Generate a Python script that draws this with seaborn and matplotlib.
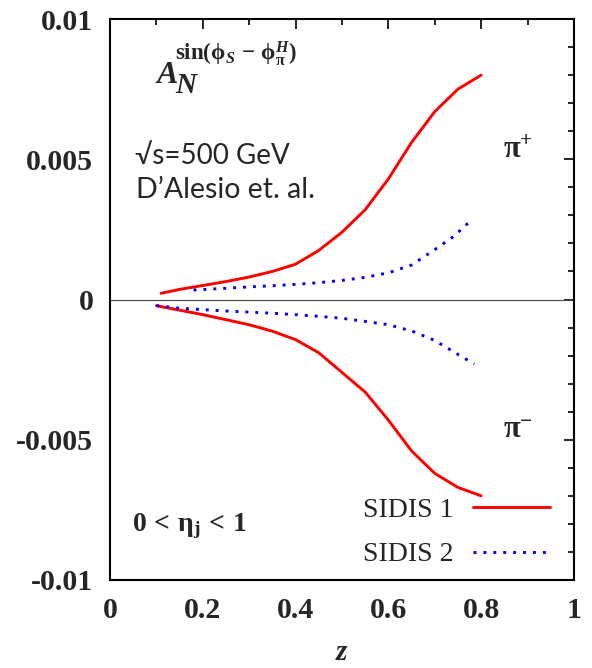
import pandas as pd
import matplotlib.pyplot as plt
import seaborn as sns

# Curves (z, A_N)
z_plus_1 = [0.11, 0.15, 0.2, 0.25, 0.3, 0.35, 0.4, 0.45, 0.5, 0.55, 0.6, 0.65, 0.7, 0.75, 0.8]
a_plus_1 = [0.00022, 0.00036, 0.00050, 0.00064, 0.00080, 0.00100, 0.00126, 0.00175,
            0.0024, 0.0032, 0.0043, 0.0056, 0.0067, 0.0075, 0.0080]
z_plus_2 = [0.18, 0.25, 0.3, 0.35, 0.4, 0.45, 0.5, 0.55, 0.6, 0.65, 0.7, 0.74, 0.78]
a_plus_2 = [0.00034, 0.00040, 0.00045, 0.00049, 0.00054, 0.00060, 0.00068, 0.00079,
            0.00095, 0.00123, 0.00178, 0.00224, 0.00285]
z_minus_1 = [0.1, 0.15, 0.2, 0.25, 0.3, 0.35, 0.4, 0.45, 0.5, 0.55, 0.6, 0.65, 0.7, 0.75, 0.8]
a_minus_1 = [-0.00022, -0.00038, -0.00054, -0.00072, -0.0009, -0.00113, -0.00143, -0.0019,
             -0.0026, -0.0033, -0.0043, -0.0054, -0.0062, -0.0067, -0.0070]
z_minus_2 = [0.1, 0.15, 0.2, 0.25, 0.3, 0.35, 0.4, 0.45, 0.5, 0.55, 0.6, 0.65, 0.7, 0.74, 0.785]
a_minus_2 = [-0.00022, -0.00031, -0.00036, -0.00041, -0.00045, -0.00049, -0.00054, -0.0006,
             -0.00067, -0.00078, -0.0009, -0.00112, -0.00146, -0.00186, -0.0023]

models = ['SIDIS 1', 'SIDIS 2']
xticks = [0, 0.2, 0.4, 0.6, 0.8, 1]
xtick_labels = ['0', '0.2', '0.4', '0.6', '0.8', '1']
yticks = [-0.01, -0.005, 0, 0.005, 0.01]
ytick_labels = ['-0.01', '-0.005', '0', '0.005', '0.01']

# Long table for seaborn
frames = []
for z, a, m, p in [(z_plus_1, a_plus_1, 'SIDIS 1', 'pi+'), (z_minus_1, a_minus_1, 'SIDIS 1', 'pi-'),
                   (z_plus_2, a_plus_2, 'SIDIS 2', 'pi+'), (z_minus_2, a_minus_2, 'SIDIS 2', 'pi-')]:
    frames.append(pd.DataFrame({'z': z, 'A': a, 'model': m, 'pion': p}))
df = pd.concat(frames, ignore_index=True)

sns.set_style('white')
plt.rcParams['font.family'] = ['Liberation Serif', 'DejaVu Serif']
plt.rcParams['mathtext.fontset'] = 'custom'
plt.rcParams['mathtext.rm'] = 'Liberation Serif:bold'
plt.rcParams['mathtext.it'] = 'Liberation Serif:italic:bold'
plt.rcParams['mathtext.bf'] = 'Liberation Serif:bold'

fig = plt.figure(figsize=(5.92, 6.68), dpi=100)
ax = fig.add_axes([110 / 592, 1 - 580 / 668, 464 / 592, 561 / 668])

ax.axhline(0, color='#444444', lw=0.8, zorder=1)
sns.lineplot(data=df, x='z', y='A', hue='model', style='model', units='pion', estimator=None,
             palette={'SIDIS 1': 'red', 'SIDIS 2': 'blue'},
             dashes={'SIDIS 1': '', 'SIDIS 2': (1, 2.4)}, linewidth=2.1, ax=ax)

leg = ax.get_legend()
handles = leg.legend_handles
labels = [t.get_text() for t in leg.texts]
leg.remove()
ax.legend(handles, labels, loc='lower right', bbox_to_anchor=(1.003, -0.022), frameon=False,
          markerfirst=False, handlelength=2.8, handletextpad=0.7, labelspacing=0.68,
          prop={'family': 'Liberation Serif', 'size': 20})

ax.set_xlim(0, 1)
ax.set_ylim(-0.01, 0.01)
ax.set_xticks(xticks, labels=xtick_labels)
ax.set_yticks(yticks, labels=ytick_labels)
ax.set_xticks([0.1, 0.3, 0.5, 0.7, 0.9], minor=True)
ax.set_yticks([v / 1000 for v in range(-9, 10) if v % 5 != 0], minor=True)
ax.tick_params(which='both', direction='in', top=True, right=True, color='black', width=1.2)
ax.tick_params(which='major', length=7, pad=12, labelsize=21.5)
ax.tick_params(which='minor', length=4)
for lbl in ax.get_xticklabels() + ax.get_yticklabels():
    lbl.set_fontweight('bold')
for s in ax.spines.values():
    s.set_color('black')
    s.set_linewidth(1.5)

ax.set_xlabel('z', fontsize=21, fontweight='bold', fontstyle='italic', labelpad=11)
ax.set_ylabel('')

# A_N with its superscript, set gnuplot-style from separate pieces
ax.text(0.097, 0.886, r'$A$', transform=ax.transAxes, fontsize=23, va='baseline')
ax.text(0.140, 0.868, r'$N$', transform=ax.transAxes, fontsize=21, va='baseline')
ax.text(0.140, 0.927, r'$\mathrm{sin}(\mathrm{\phi}_S\,-\,\mathrm{\phi}_{\mathrm{\pi}}^{H})$',
        transform=ax.transAxes, fontsize=16.5, va='baseline')
ax.text(0.054, 0.756, '√s=500 GeV', transform=ax.transAxes, fontsize=20,
        family=['Lato', 'DejaVu Sans'], va='center')
ax.text(0.056, 0.695, 'D’Alesio et. al.', transform=ax.transAxes, fontsize=20.5,
        family=['Lato', 'DejaVu Sans'], va='center')
ax.text(0.847, 0.752, r'$\mathrm{\pi}^{+}$', transform=ax.transAxes, fontsize=22, va='baseline')
ax.text(0.847, 0.253, r'$\mathrm{\pi}^{-}$', transform=ax.transAxes, fontsize=22, va='baseline')
ax.text(0.047, 0.087, r'$\mathrm{0\,<\,\eta_j\,<\,1}$', transform=ax.transAxes, fontsize=20,
        va='baseline')

fig.savefig('out.png', dpi=100)
